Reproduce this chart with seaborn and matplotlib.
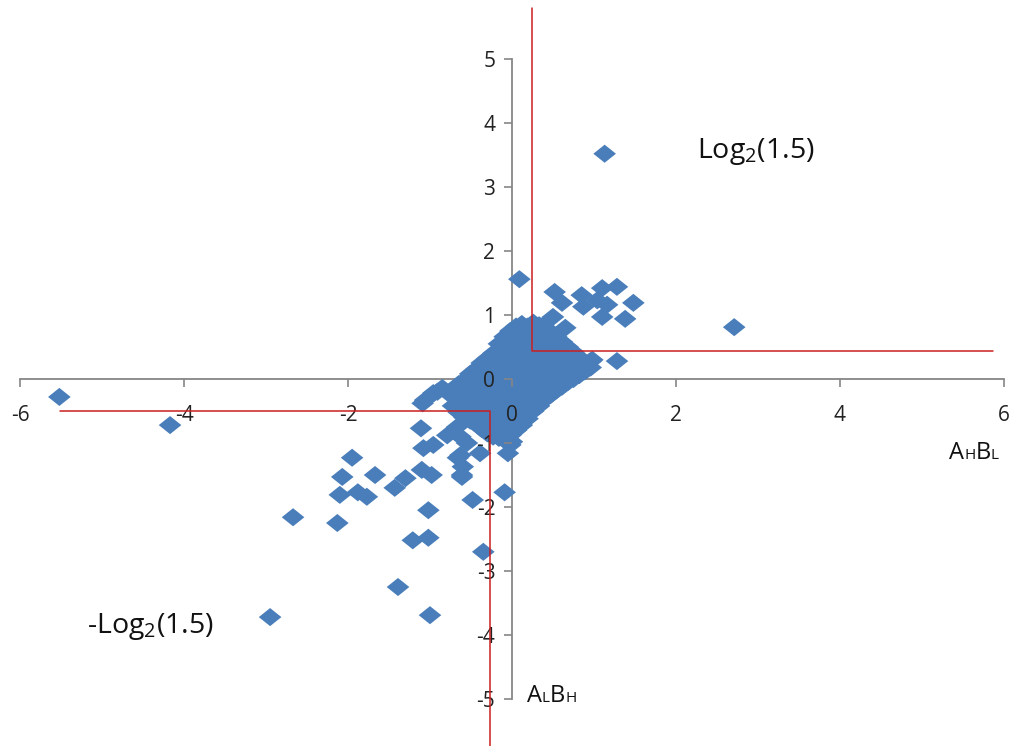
import matplotlib
matplotlib.use("Agg")
import matplotlib.pyplot as plt
import seaborn as sns
import pandas as pd
from matplotlib.path import Path
from matplotlib.markers import MarkerStyle

# ---------------- data ----------------
# scattered points (outside the dense central cloud)
outer_x = [-5.52, -4.17, 1.13, 2.71, 0.09,
           0.52, 0.61, 0.85, 0.87, 1.10, 1.28, 1.04, 1.16, 1.10, 1.48, 1.38,
           0.50, 0.65, 0.38, 0.98, 1.28, 0.59, 0.77, 0.95,
           -1.06, -0.91, -0.85, -0.96, -1.09, -0.73,
           -1.11, -1.08, -0.96, -0.79, -0.67, -0.63, -0.55,
           -1.95, -2.07, -1.67, -1.88, -1.77, -2.10, -1.43, -1.30, -1.10, -0.98,
           -1.02, -1.21, -1.02, -0.35, -1.39, -1.00, -2.95, -2.67, -2.13,
           -0.61, -0.66, -0.48, -0.39, -0.60, -0.63, -0.61,
           -0.09, -0.02, -0.05, 0.00, 0.00]
outer_y = [-0.28, -0.72, 3.52, 0.81, 1.56,
           1.36, 1.19, 1.31, 1.13, 1.42, 1.44, 1.23, 1.16, 0.97, 1.19, 0.94,
           0.97, 0.80, 0.84, 0.30, 0.28, 0.14, 0.22, 0.27,
           -0.33, -0.20, -0.14, -0.22, -0.38, -0.25,
           -0.77, -1.08, -1.03, -0.88, -0.75, -0.90, -1.00,
           -1.23, -1.53, -1.50, -1.77, -1.84, -1.81, -1.70, -1.55, -1.42, -1.50,
           -2.05, -2.52, -2.48, -2.70, -3.25, -3.69, -3.72, -2.16, -2.25,
           -1.50, -1.23, -1.89, -1.16, -1.37, -1.19, -1.53,
           -1.77, -1.03, -1.16, -0.98, -0.85]

# dense central cloud, read column by column (main columns)
cloud_x = ([-0.72] * 3 + [-0.58] * 5 + [-0.44] * 7 + [-0.30] * 9 +
           [-0.16] * 11 + [-0.02] * 12 + [0.12] * 12 + [0.26] * 11 +
           [0.40] * 9 + [0.54] * 7 + [0.68] * 5 + [0.82] * 3 + [0.96] * 2)
cloud_y = ([-0.42, -0.28, -0.16] +
           [-0.60, -0.45, -0.30, -0.15, -0.02] +
           [-0.70, -0.55, -0.40, -0.25, -0.10, 0.05, 0.15] +
           [-0.85, -0.70, -0.55, -0.40, -0.25, -0.10, 0.05, 0.20, 0.32] +
           [-0.92, -0.75, -0.60, -0.45, -0.30, -0.15, 0.00, 0.15, 0.30, 0.45, 0.55] +
           [-0.88, -0.72, -0.58, -0.42, -0.28, -0.12, 0.02, 0.18, 0.32, 0.48, 0.62, 0.75] +
           [-0.72, -0.58, -0.44, -0.30, -0.15, 0.00, 0.15, 0.30, 0.45, 0.60, 0.75, 0.86] +
           [-0.50, -0.36, -0.22, -0.08, 0.06, 0.20, 0.34, 0.48, 0.62, 0.76, 0.88] +
           [-0.32, -0.18, -0.05, 0.10, 0.24, 0.38, 0.52, 0.66, 0.80] +
           [-0.18, -0.04, 0.10, 0.24, 0.38, 0.52, 0.66] +
           [-0.05, 0.08, 0.22, 0.36, 0.50] +
           [0.06, 0.20, 0.34] +
           [0.18, 0.28])

# dense central cloud, in-between columns
cloud2_x = ([-0.65] * 4 + [-0.51] * 6 + [-0.37] * 8 + [-0.23] * 10 +
            [-0.09] * 12 + [0.05] * 12 + [0.19] * 11 + [0.33] * 10 +
            [0.47] * 8 + [0.61] * 6 + [0.75] * 4 + [0.89] * 2)
cloud2_y = ([-0.52, -0.38, -0.22, -0.08] +
            [-0.65, -0.50, -0.36, -0.20, -0.06, 0.08] +
            [-0.78, -0.62, -0.48, -0.32, -0.18, -0.02, 0.12, 0.25] +
            [-0.90, -0.78, -0.62, -0.48, -0.32, -0.18, -0.02, 0.12, 0.26, 0.40] +
            [-0.95, -0.82, -0.66, -0.52, -0.36, -0.22, -0.06, 0.08, 0.24, 0.38, 0.52, 0.66] +
            [-0.80, -0.65, -0.50, -0.36, -0.20, -0.06, 0.10, 0.24, 0.40, 0.54, 0.68, 0.82] +
            [-0.62, -0.50, -0.36, -0.22, -0.08, 0.08, 0.22, 0.38, 0.52, 0.68, 0.82] +
            [-0.42, -0.28, -0.14, 0.00, 0.14, 0.28, 0.42, 0.56, 0.70, 0.84] +
            [-0.25, -0.10, 0.04, 0.18, 0.32, 0.46, 0.60, 0.74] +
            [-0.12, 0.02, 0.16, 0.30, 0.44, 0.58] +
            [0.00, 0.14, 0.28, 0.42] +
            [0.12, 0.24])

x_ticks = [-6, -4, -2, 0, 2, 4, 6]
y_ticks = [-5, -4, -3, -2, -1, 0, 1, 2, 3, 4, 5]

# red threshold guide lines
upper_line_x = [0.24, 0.24, 5.87]
upper_line_y = [5.80, 0.44, 0.44]
lower_line_x = [-5.51, -0.27, -0.27]
lower_line_y = [-0.50, -0.50, -5.80]

df = pd.DataFrame({"x": outer_x + cloud_x + cloud2_x,
                   "y": outer_y + cloud_y + cloud2_y})

# ---------------- style ----------------
sns.set_theme(style="white")
plt.rcParams["font.family"] = ["Open Sans", "DejaVu Sans"]
plt.rcParams["mathtext.fontset"] = "custom"
plt.rcParams["mathtext.rm"] = "Open Sans"

AXIS_GREY = "#868686"
BLUE = "#4A7EBB"
RED = "#CC1F1F"
TXT = "#111111"

fig = plt.figure(figsize=(10.18, 7.46), dpi=100)
ax = fig.add_axes([0, 0, 1, 1])
ax.set_axisbelow(False)

diamond = MarkerStyle(Path([(-1, 0), (0, 0.8), (1, 0), (0, -0.8), (-1, 0)],
                           [Path.MOVETO, Path.LINETO, Path.LINETO, Path.LINETO, Path.CLOSEPOLY]))
sns.scatterplot(data=df, x="x", y="y", ax=ax, marker=diamond, s=265,
                color=BLUE, edgecolor="none", linewidth=0, zorder=1)

ax.plot(upper_line_x, upper_line_y, color=RED, lw=1.1, zorder=4)
ax.plot(lower_line_x, lower_line_y, color=RED, lw=1.1, zorder=4)

ax.set_xlim(-6.244, 6.171)
ax.set_ylim(-5.734, 5.922)

for s in ["top", "right"]:
    ax.spines[s].set_visible(False)
ax.spines["left"].set_position(("data", 0))
ax.spines["bottom"].set_position(("data", 0))
ax.spines["left"].set_bounds(-5, 5)
ax.spines["bottom"].set_bounds(-6, 6)
for s in ["left", "bottom"]:
    ax.spines[s].set_color(AXIS_GREY)
    ax.spines[s].set_linewidth(1.3)
    ax.spines[s].set_zorder(0.5)

ax.set_xticks(x_ticks)
ax.set_yticks(y_ticks)
ax.set_xticklabels([str(v) for v in x_ticks])
ax.set_yticklabels([str(v) for v in y_ticks])
ax.tick_params(axis="x", direction="out", length=6, width=1.2, color=AXIS_GREY,
               labelsize=15, pad=13, labelcolor="#222222", bottom=True)
ax.tick_params(axis="y", direction="out", length=6, width=1.2, color=AXIS_GREY,
               labelsize=15, pad=6, labelcolor="#222222", left=True)
ax.xaxis.set_zorder(3)
ax.yaxis.set_zorder(3)
ax.set_xlabel("")
ax.set_ylabel("")
ax.grid(False)

# annotations
ax.text(2.26, 3.45, r"Log$_\mathrm{2}$(1.5)", fontsize=20.5, va="baseline", ha="left", color=TXT)
ax.text(-5.18, -3.97, r"-Log$_\mathrm{2}$(1.5)", fontsize=20.5, va="baseline", ha="left", color=TXT)


def small_caps_label(x, y, parts):
    t = ax.text(x, y, parts[0][0], fontsize=parts[0][1], va="baseline", ha="left", color=TXT)
    for txt, fs in parts[1:]:
        off = 1.6 if fs < 14 else -1.6
        t = ax.annotate(txt, xy=(1, 0), xycoords=t, xytext=(0, off), textcoords="offset points",
                        fontsize=fs, va="bottom", ha="left", color=TXT)
    return t


small_caps_label(5.33, -1.25, [("A", 17), ("H", 11), ("B", 17), ("L", 11)])
small_caps_label(0.18, -5.05, [("A", 17), ("L", 11), ("B", 17), ("H", 11)])

fig.savefig("out.png", dpi=100)
